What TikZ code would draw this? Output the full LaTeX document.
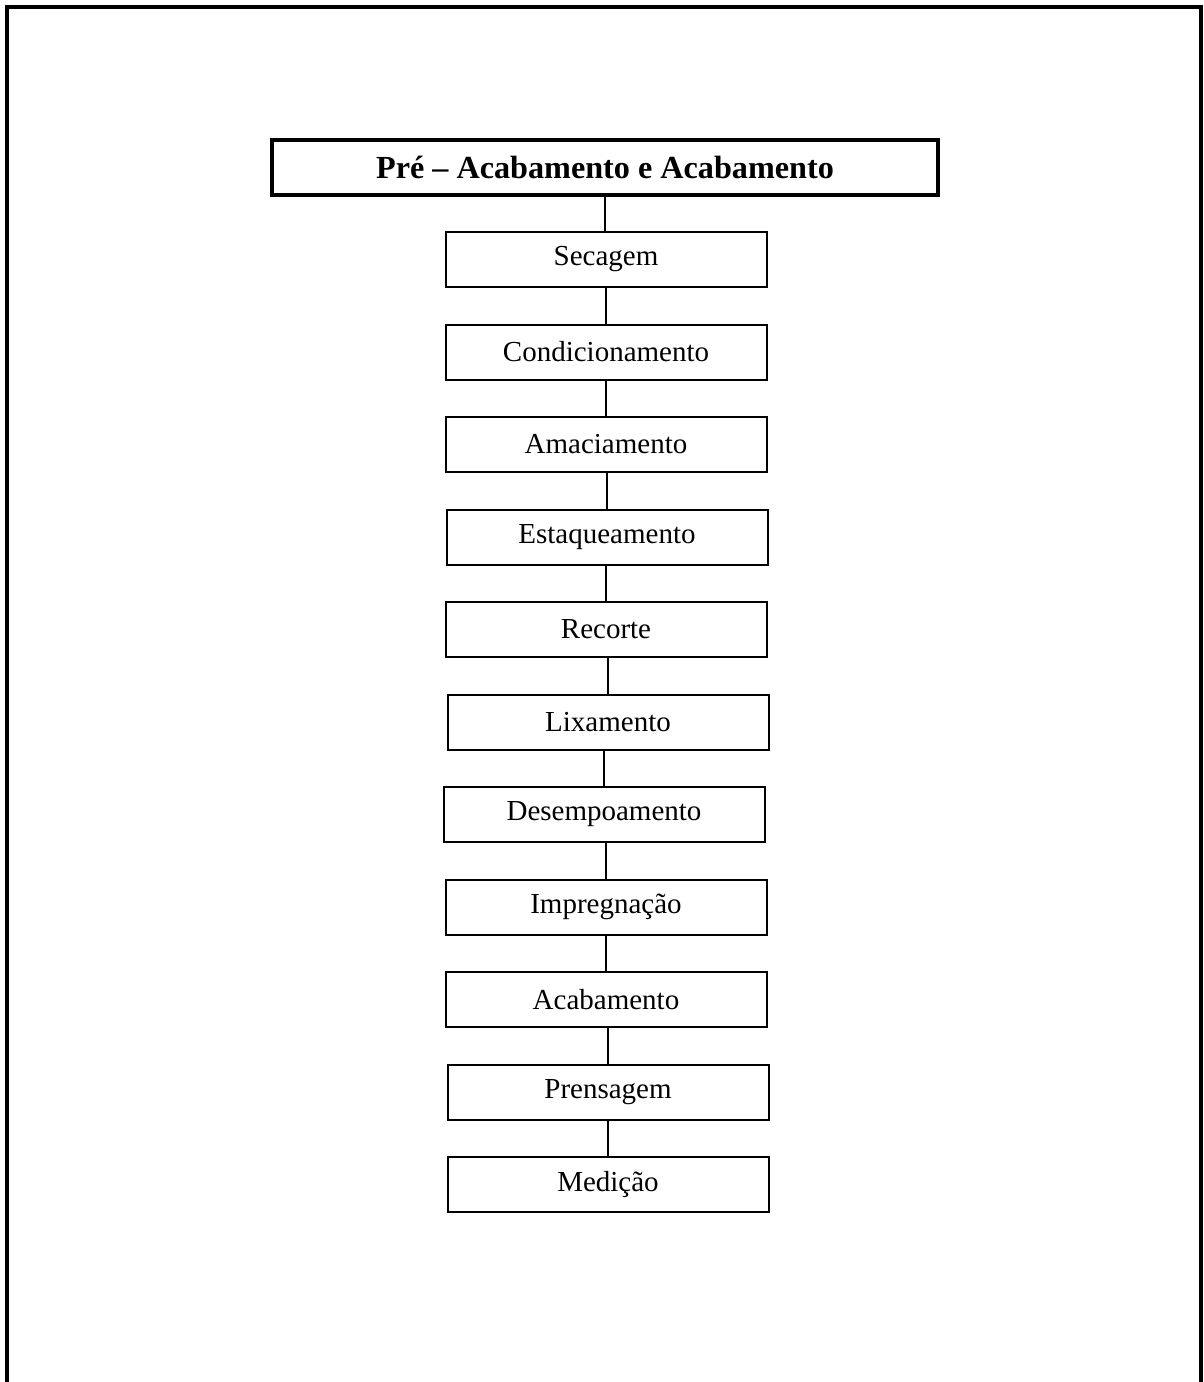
\documentclass[tikz,border=0pt]{standalone}
\usepackage{fontspec}
\setmainfont{Liberation Serif}
\usetikzlibrary{positioning}

\begin{document}
\begin{tikzpicture}[x=1pt, y=-1pt, node distance=35.5pt]
        \tikzset{
                basic/.style  = {draw, rectangle, align=center, inner sep=0pt},
                title/.style  = {basic, line width=4.5pt, minimum width=666pt, minimum height=55pt,
                                font=\fontsize{32.2}{38}\selectfont\bfseries},
                stage/.style  = {basic, line width=2pt, minimum width=321pt, minimum height=55pt,
                                font=\fontsize{29}{34}\selectfont},
                link/.style   = {draw, line width=2pt}
        }
        \useasboundingbox (0,0) rectangle (1204,1382);
        % frame, open at the bottom
        \draw[line width=3.2pt] (7,1382) -- (7,7) -- (1201,7) -- (1201,1382);

        % heading
        \node[title] (head) at (605,167.5) {Pré – Acabamento e Acabamento};

        % the stages, one under the other
        \node[stage] (s1) at (606,259.5) {Secagem};
        \node[stage, below=of s1] (s2) {Condicionamento};
        \node[stage, below=of s2] (s3) {Amaciamento};
        \node[stage, below=of s3, xshift=1pt] (s4) {Estaqueamento};
        \node[stage, below=of s4, xshift=-1pt] (s5) {Recorte};
        \node[stage, below=of s5, xshift=2pt] (s6) {Lixamento};
        \node[stage, below=of s6, xshift=-4pt] (s7) {Desempoamento};
        \node[stage, below=of s7, xshift=2pt] (s8) {Impregnação};
        \node[stage, below=of s8] (s9) {Acabamento};
        \node[stage, below=of s9, xshift=2pt] (s10) {Prensagem};
        \node[stage, below=of s10] (s11) {Medição};

        % connectors, straight down from each box
        \draw[link] (head.south) -- (head.south |- s1.north);
        \foreach \a/\b in {1/2,2/3,3/4,4/5,5/6,6/7,7/8,8/9,9/10,10/11}
        \draw[link] (s\b.north) -- (s\b.north |- s\a.south);

\end{tikzpicture}
\end{document}
